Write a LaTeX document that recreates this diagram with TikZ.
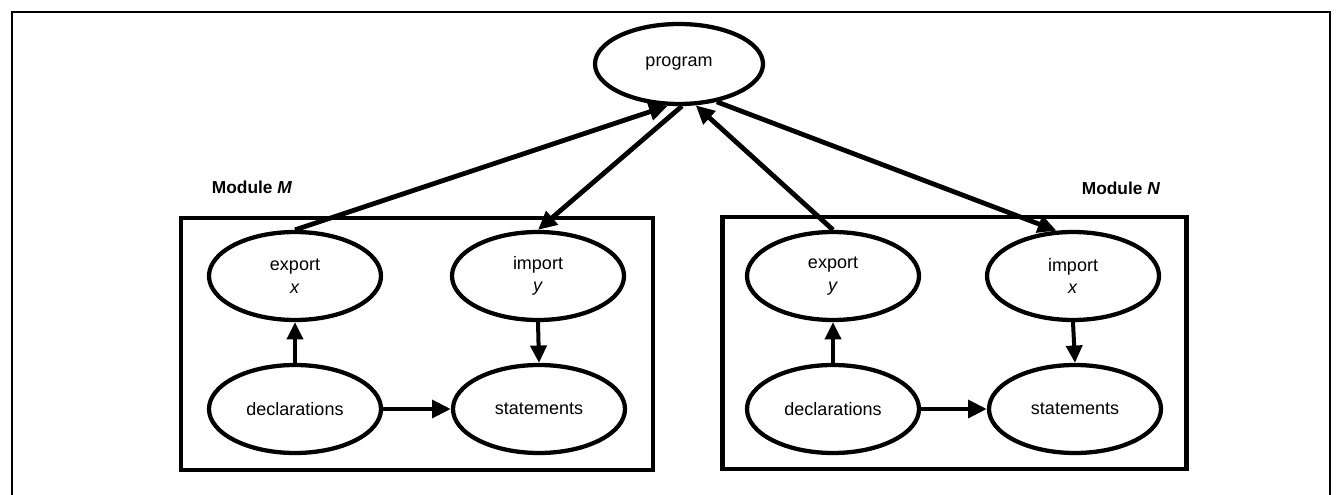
\documentclass[tikz,border=0pt]{standalone}
\usepackage{fontspec}
\setmainfont{Liberation Sans}
\usetikzlibrary{arrows.meta,shapes.geometric}
\begin{document}
\begin{tikzpicture}[x=0.75pt,y=-0.75pt,
  elli/.style={ellipse,draw,line width=3.2pt,minimum width=129pt,minimum height=66pt,inner sep=0pt,align=center,font=\fontsize{13.5}{17}\selectfont},
  modbox/.style={draw,line width=3.4pt,inner sep=0pt},
  arr/.style={line width=3pt,-{Triangle[length=13pt,width=12pt]}},
  longarr/.style={line width=3.6pt,-{Triangle[length=14pt,width=13pt]}},
  lbl/.style={font=\fontsize{13}{15}\selectfont\bfseries}
]
\useasboundingbox (0,0) rectangle (1339,495);
% outer frame
\draw[line width=2.2pt] (12,495) -- (12,12) -- (1330,12) -- (1330,495);

% program
\node[elli,minimum width=126pt,minimum height=60pt] (prog) at (679,64) {program};

% module boxes
\node[modbox,minimum width=354pt,minimum height=189pt] (boxM) at (417,344) {};
\node[modbox,minimum width=348pt,minimum height=189pt] (boxN) at (954.5,343) {};
\node[lbl] (labM) at (252,187) {Module \textit{M}};
\node[lbl] (labN) at (1121,188) {Module \textit{N}};

% module M
\node[elli] (expM) at (295,276) {export\\\textit{x}};
\node[elli] (impM) at (538,276) {import\\\textit{y}};
\node[elli] (decM) at (295,409) {declarations};
\node[elli] (stM) at (539,409) {statements};

% module N
\node[elli] (expN) at (833,276) {export\\\textit{y}};
\node[elli] (impN) at (1073,276) {import\\\textit{x}};
\node[elli] (decN) at (833,409) {declarations};
\node[elli] (stN) at (1075,409) {statements};

% inner arrows
\draw[arr] (decM.north) -- (expM.south);
\draw[arr] (impM.south) -- (stM.north);
\draw[longarr] (decM.east) -- (stM.west);
\draw[arr] (decN.north) -- (expN.south);
\draw[arr] (impN.south) -- (stN.north);
\draw[longarr] (decN.east) -- (stN.west);

% long arrows
\draw[longarr] (expM.north) -- (prog.255);
\draw[longarr] (prog.274) -- (impM.north);
\draw[longarr] (expN.north) -- (prog.292);
\draw[longarr] (prog.315) -- (impN.110);
\end{tikzpicture}
\end{document}
